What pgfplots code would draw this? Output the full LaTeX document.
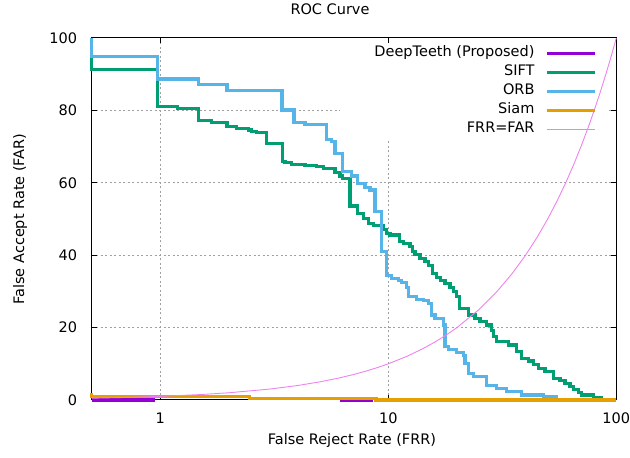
\documentclass[border=0pt]{standalone}
\usepackage{fontspec}
\setmainfont{DejaVu Sans}
\usepackage{pgfplots}
\pgfplotsset{compat=1.18}

\definecolor{cDeep}{HTML}{9400D3}
\definecolor{cSift}{HTML}{009E73}
\definecolor{cOrb}{HTML}{56B4E9}
\definecolor{cSiam}{HTML}{E69F00}
\definecolor{cFrr}{HTML}{EE82EE}
\definecolor{cGrid}{HTML}{A0A0A0}

\begin{document}
\begin{tikzpicture}[font=\fontsize{14.5}{17}\selectfont]
\path[use as bounding box] (0pt,0pt) rectangle (630pt,458pt);
\begin{axis}[
    at={(91.7pt,58pt)}, anchor=south west,
    scale only axis, width=524.6pt, height=362pt,
    xmode=log, xmin=0.5, xmax=100, ymin=0, ymax=100,
    xtick={1,10,100}, xticklabels={1,10,100},
    ytick={0,20,40,60,80,100},
    yticklabels={0,20,40,60,80,100},
    xminorticks=false, yminorticks=false,
    tick align=inside, major tick length=5pt,
    every tick/.style={black, line width=1pt},
    axis line style={line width=1pt},
    grid=major,
    major grid style={cGrid, line width=1pt, dash pattern=on 2pt off 2.5pt},
    /pgf/number format/assume math mode=true,
    tick label style={font=\fontsize{14.5}{17}\selectfont},
    xticklabel style={inner sep=0pt, anchor=north, yshift=-12.5pt},
    yticklabel style={inner sep=0pt, anchor=east, xshift=-14.5pt},
    clip=false,
    legend style={at={(0.963,0.9787)}, anchor=north east, draw=none, fill=none,
        inner sep=0pt, row sep=4pt, column sep=11pt,
        nodes={inner sep=0pt, text height=11pt, text depth=4pt},
        font=\fontsize{14.5}{17}\selectfont},
    legend cell align=right,
    legend plot pos=right,
    legend image code/.code={\draw[#1] (0pt,0pt) -- (48pt,0pt);},
]
% key area is blanked in the original
\fill[white] (axis cs:6.14,71.8) rectangle (axis cs:91,98.5);

\addplot[cDeep, line width=3.2pt] coordinates {(0.5,0) (0.95,0)};
\addlegendentry{DeepTeeth (Proposed)}
\addplot[cDeep, line width=3.2pt, forget plot] coordinates {(6.14,0) (8.55,0)};

\addplot[cSift, line width=3.2pt, const plot] coordinates {
(0.5,100) (0.5,91.2) (0.974,81.0) (1.19,80.5) (1.47,77.2) (1.68,76.7)
(1.96,75.5) (2.16,75.1) (2.43,74.6) (2.52,74.2) (2.65,73.9) (2.93,70.9)
(3.44,65.9) (3.52,65.5) (3.77,65.1) (4.31,64.8) (4.85,64.5) (5.19,64.0)
(5.84,62.8) (6.14,61.9) (6.31,61.2) (6.79,53.6) (7.31,51.6) (7.77,50.2)
(8.17,48.8) (8.6,48.3) (9.51,47.0) (9.84,46.0) (10.17,45.6) (11.17,43.7)
(11.63,43.3) (12.45,42.3) (12.8,41.0) (13.09,40.1) (13.77,39.1) (14.49,38.2)
(14.98,37.1) (15.65,35.0) (16.31,33.9) (16.98,33.1) (17.73,32.2) (18.65,31.1)
(19.28,29.9) (19.95,28.5) (20.49,25.2) (22.43,23.5) (24.0,22.6) (25.25,21.6)
(27.02,20.7) (28.41,19.3) (28.87,17.5) (29.88,16.1) (33.6,15.2) (36.58,13.4)
(38.47,11.5) (41.1,10.8) (43.25,9.7) (45.5,8.8) (48.68,7.8) (52.93,6.0)
(56.62,5.3) (59.57,4.6) (62.66,3.7) (64.78,3.0) (68.13,2.0) (70.5,1.4)
(79.3,0.75) (86.3,0) (86.4,0)
};
\addlegendentry{SIFT}

\addplot[cOrb, line width=3.2pt, const plot] coordinates {
(0.5,100) (0.5,94.8) (0.974,88.7) (1.47,87.2) (1.96,85.6) (3.42,80.1)
(3.86,76.6) (4.31,76.2) (5.37,72.0) (5.65,71.4) (5.84,68.1) (6.31,63.1)
(6.91,61.9) (7.31,59.9) (7.9,58.8) (8.31,58.0) (8.74,52.0) (9.36,41.0)
(9.84,34.5) (10.35,33.6) (11.06,33.1) (11.45,32.4) (12.04,31.1) (12.24,28.5)
(13.32,27.8) (14.24,27.4) (14.98,26.7) (15.5,23.5) (16.03,22.6) (17.43,20.7)
(17.73,14.7) (18.4,13.9) (19.9,13.2) (21.3,12.4) (21.7,10.1) (22.4,7.4)
(23.6,6.4) (27.0,4.1) (29.9,3.2) (33.0,2.3) (38.5,1.4) (47.8,0.9)
(54.6,0) (54.7,0)
};
\addlegendentry{ORB}

\addplot[cSiam, line width=3.2pt, const plot] coordinates {
(0.5,1.8) (0.5,1.0) (2.47,0.45) (8.83,0) (100,0)
};
\addlegendentry{Siam}

\addplot[cFrr, line width=0.9pt] coordinates {
(0.5,0.5) (0.7,0.7) (1,1) (1.5,1.5) (2,2) (3,3) (4,4) (5,5) (6,6) (7,7)
(8,8) (9,9) (10,10) (12,12) (14,14) (16,16) (18,18) (20,20) (25,25)
(30,30) (35,35) (40,40) (45,45) (50,50) (55,55) (60,60) (65,65) (70,70)
(75,75) (80,80) (85,85) (90,90) (95,95) (100,100)
};
\addlegendentry{FRR=FAR}
\end{axis}
\node at (330pt,449pt) {ROC Curve};
\node at (352pt,17pt) {False Reject Rate (FRR)};
\node[rotate=90] at (20pt,239pt) {False Accept Rate (FAR)};
\end{tikzpicture}
\end{document}
